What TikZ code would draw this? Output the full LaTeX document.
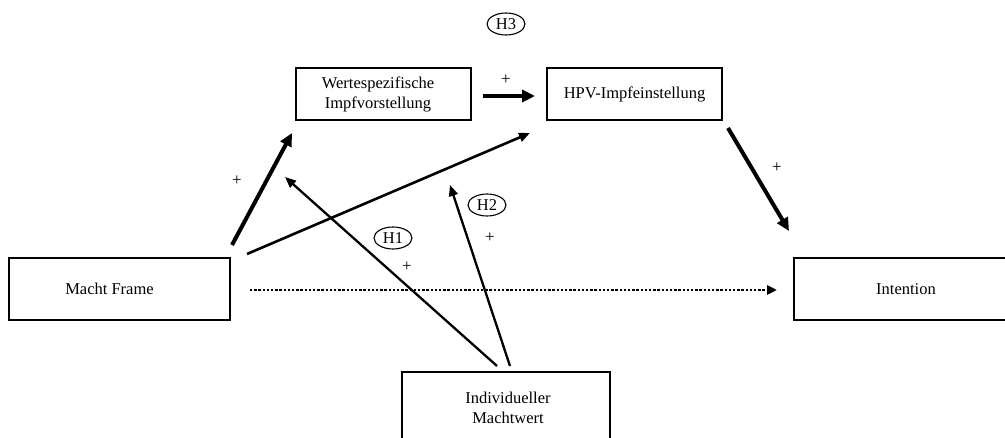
\documentclass[tikz,border=0pt]{standalone}
\usepackage{fontspec}
\setmainfont{Liberation Serif}
\usetikzlibrary{arrows.meta,shapes.geometric}
\begin{document}
\begin{tikzpicture}[x=1pt,y=-1pt,
 box/.style={draw,line width=1.4pt,inner sep=0pt,align=center,font=\fontsize{16.5}{20}\selectfont},
 hyp/.style={draw,ellipse,line width=1.1pt,inner sep=0pt,minimum width=38pt,minimum height=22pt,font=\fontsize{16.5}{18}\selectfont},
 plus/.style={font=\fontsize{17}{18}\selectfont,inner sep=0pt},
 thickarr/.style={line width=4pt,-{Triangle[length=13pt,width=12pt]}},
 thinarr/.style={line width=2.3pt,-{Triangle[length=11pt,width=9pt]}},
 dotarr/.style={line width=2.6pt,dash pattern=on 2.4pt off 1.8pt,-{Triangle[length=10pt,width=9pt]}}]
\useasboundingbox[fill=white] (0,0) rectangle (1005,438);

\node[box,minimum width=175pt,minimum height=52pt] (werte) at (383.5,94) {Wertespezifische\hspace*{11pt}\\Impfvorstellung\hspace*{11pt}};
\node[box,minimum width=175pt,minimum height=52pt] (hpv) at (634.5,94) {HPV-Impfeinstellung};
\node[box,minimum width=221pt,minimum height=62pt] (macht) at (119.5,289) {Macht Frame\hspace*{20pt}};
\node[box,minimum width=224pt,minimum height=62pt] (intent) at (906,289) {Intention};
\node[box,minimum width=208pt,minimum height=72pt] (indiv) at (506,408) {\hspace*{4pt}Individueller\\\hspace*{4pt}Machtwert};

\node[hyp] (h3) at (506,24) {H3};
\node[hyp] (h1) at (393,238) {H1};
\node[hyp] (h2) at (487,205) {H2};

\node[plus] (p1) at (506,80) {+};
\node[plus] (p2) at (237,181) {+};
\node[plus] (p3) at (777,168) {+};
\node[plus] (p4) at (407,267) {+};
\node[plus] (p5) at (490,238) {+};

\coordinate (m1) at (232,245);
\coordinate (w1) at (292,133);
\coordinate (m2) at (247,254);
\coordinate (hh1) at (530,133);
\coordinate (i1) at (497,366);
\coordinate (w2) at (285,177);
\coordinate (i2) at (510,366);
\coordinate (hh2) at (450,185);
\coordinate (wa) at (483,96);
\coordinate (ha) at (535,96);
\coordinate (hb) at (728,128);
\coordinate (ib) at (789,231);
\coordinate (d1) at (250,290);
\coordinate (d2) at (777,290);

\draw[thickarr] (m1) -- (w1);
\draw[thinarr,line width=2.6pt] (m2) -- (hh1);
\draw[thinarr] (i1) -- (w2);
\draw[thinarr] (i2) -- (hh2);
\draw[thickarr] (wa) -- (ha);
\draw[thickarr] (hb) -- (ib);
\draw[dotarr] (d1) -- (d2);
\end{tikzpicture}
\end{document}
